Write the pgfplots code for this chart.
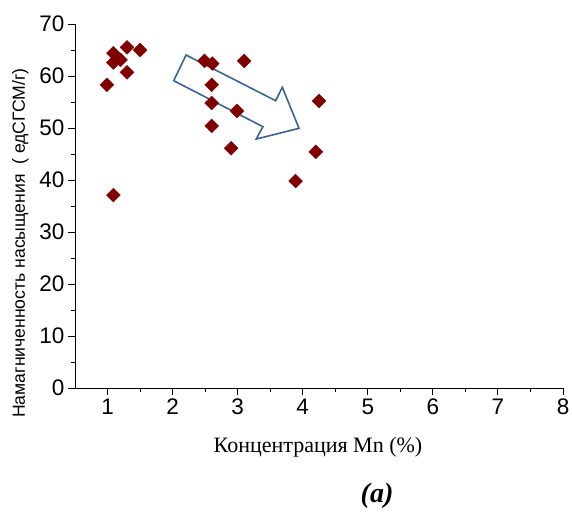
\documentclass[border=0pt]{standalone}
\usepackage{fontspec}
\setmainfont{Liberation Serif}
\newfontfamily\arial{Liberation Sans}
\usepackage{pgfplots}
\pgfplotsset{compat=1.18}
\definecolor{mk}{RGB}{128,0,0}
\definecolor{arr}{RGB}{58,100,150}
\begin{document}
\begin{tikzpicture}
\begin{axis}[
  at={(0pt,0pt)}, anchor=south west,
  scale only axis, width=488pt, height=364pt,
  xmin=0.5, xmax=8, ymin=0, ymax=70,
  axis lines*=left,
  axis line style={line width=0.9pt},
  xtick={1,2,...,8}, ytick={0,10,...,70},
  minor xtick={1.5,2.5,...,7.5}, minor ytick={5,15,...,65},
  tick align=outside,
  major tick length=7pt, minor tick length=4pt,
  every tick/.style={black, line width=0.9pt},
  /pgf/number format/assume math mode=true,
  ticklabel style={font=\arial\fontsize{22.5}{24}\selectfont},
  clip=false,
]
\addplot[only marks, mark=square*, mark size=4.9pt,
  mark options={rotate=45, fill=mk, draw=mk}] coordinates {
  (1.30,65.5) (1.50,65.0) (1.09,64.4) (1.20,63.1) (1.09,62.6)
  (1.30,60.7) (0.99,58.3) (1.09,37.1)
  (2.49,62.9) (2.61,62.4) (3.10,62.9) (2.60,58.3) (2.60,54.8)
  (2.99,53.3) (2.60,50.4) (2.90,46.1)
  (4.25,55.2) (4.20,45.4) (3.89,39.8)
};
\addplot[arr, line width=1.6pt, no marks, line join=miter] coordinates {
  (2.207,64.04) (2.017,59.10) (3.388,50.25) (3.285,47.88)
  (3.943,49.94) (3.686,57.83) (3.584,55.25)
} -- cycle;
\end{axis}
\node[rotate=90, anchor=base west, inner sep=0, font=\arial\fontsize{17.6}{19}\selectfont]
  at (-50pt,-30pt) {Намагниченность насыщения\ \ ( едСГСМ/г)};
\node[anchor=base, inner sep=0, font=\fontsize{22}{24}\selectfont]
  at (243pt,-64pt) {Концентрация Mn (\%)};
\node[anchor=base, inner sep=0, font=\bfseries\itshape\fontsize{28}{30}\selectfont]
  at (302pt,-114pt) {(a)};
\pgfresetboundingbox
\path[use as bounding box] (-75pt,-126pt) rectangle (497pt,388pt);
\end{tikzpicture}
\end{document}
